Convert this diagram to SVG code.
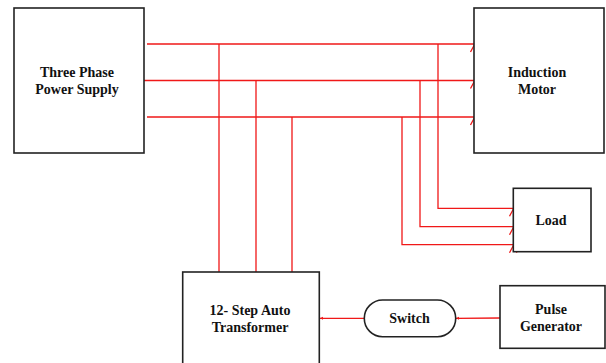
<svg xmlns="http://www.w3.org/2000/svg" width="606" height="363" viewBox="0 0 606 363">
<style>
.box{fill:#fff;stroke:#222;stroke-width:1.6}
.lbl{font-family:"Liberation Serif",serif;font-weight:bold;font-size:14px;fill:#111;text-anchor:middle}
.w{fill:none;stroke:#f01818;stroke-width:1.3}
</style>
<defs>
<path id="car" d="M-3.5,8 L0,1.5 L4,8" fill="none" stroke="#f01818" stroke-width="1.3"/>
</defs>
<g id="connectors">
<path class="w" d="M147,44 H474 M144,80.5 H474 M147,117 H474"/>
<path class="w" d="M219,44 V272 M256,80.5 V272 M292,117 V272"/>
<path class="w" d="M438,44 V208.3 H513 M420,80.5 V226.7 H513 M402,117 V244.7 H513"/>
<use href="#car" x="474" y="44"/>
<use href="#car" x="474" y="80.5"/>
<use href="#car" x="474" y="117"/>
<use href="#car" x="513" y="208.3"/>
<use href="#car" x="513" y="226.7"/>
<use href="#car" x="513" y="244.7"/>
<path class="w" d="M364,318.3 H320"/>
<path d="M320,318.3 l3,-1.5 v3 z" fill="#f01818"/>
<path class="w" d="M500,318 L456,318.3"/>
<path d="M456,318.3 l3,-1.5 v3 z" fill="#f01818"/>
</g>
<g id="power">
<rect class="box" x="14" y="8" width="130" height="145"/>
<text class="lbl" x="77" y="76.5">Three Phase</text>
<text class="lbl" x="77" y="94">Power Supply</text>
</g>
<g id="motor">
<rect class="box" x="474" y="8" width="130" height="145"/>
<text class="lbl" x="537" y="76.5">Induction</text>
<text class="lbl" x="537" y="94">Motor</text>
</g>
<g id="load">
<rect class="box" x="513.3" y="188.3" width="77.7" height="63.4"/>
<text class="lbl" x="551" y="225">Load</text>
</g>
<g id="transformer">
<rect class="box" x="182.7" y="272" width="136.6" height="100"/>
<text class="lbl" x="250" y="315">12- Step Auto</text>
<text class="lbl" x="250" y="332">Transformer</text>
</g>
<g id="switch">
<rect class="box" x="364.3" y="300" width="91.4" height="36.7" rx="18.3"/>
<text class="lbl" x="409.5" y="323">Switch</text>
</g>
<g id="pulse">
<rect class="box" x="500" y="285.7" width="105" height="62.6"/>
<text class="lbl" x="551" y="314">Pulse</text>
<text class="lbl" x="551" y="331">Generator</text>
</g>
</svg>
